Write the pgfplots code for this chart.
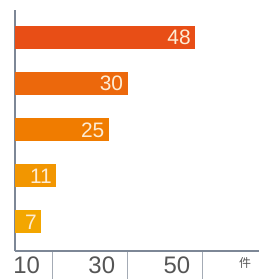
\documentclass[border=0pt]{standalone}
\usepackage{fontspec}
\setmainfont{Liberation Sans}
\newfontfamily\cjk{Noto Sans CJK JP}
\usepackage{pgfplots}
\pgfplotsset{compat=1.18}
\definecolor{c1}{RGB}{232,78,22}
\definecolor{c2}{RGB}{236,104,12}
\definecolor{c3}{RGB}{240,124,0}
\definecolor{c4}{RGB}{242,150,0}
\definecolor{c5}{RGB}{243,166,0}
\definecolor{axisgray}{RGB}{125,135,150}
\definecolor{labgray}{RGB}{85,85,85}
\definecolor{labcol}{RGB}{253,236,212}
\begin{document}
\begin{tikzpicture}
\begin{axis}[
  scale only axis, width=244bp, height=241bp,
  xmin=0, xmax=65, ymin=-0.63, ymax=4.6,
  /pgf/number format/assume math mode=true,
  axis x line*=bottom, axis y line*=left,
  axis line style={draw=axisgray, line width=2bp, -},
  ytick=\empty,
  xtick={10,30,50}, xticklabels={10,30,50},
  tick align=outside, major tick length=28bp,
  xtick style={draw=axisgray!70, line width=0.8bp},
  xticklabel style={anchor=north east, xshift=-9bp, yshift=26bp, font=\fontsize{24}{24}\selectfont, text=labgray},
  clip=false,
  every node near coord/.append style={anchor=east, text=labcol, font=\fontsize{21}{21}\selectfont, xshift=-1bp},
]
\addplot[xbar, bar width=23bp, bar shift=0pt, fill=c1, draw=none, nodes near coords] coordinates {(48,4)};
\addplot[xbar, bar width=23bp, bar shift=0pt, fill=c2, draw=none, nodes near coords] coordinates {(30,3)};
\addplot[xbar, bar width=23bp, bar shift=0pt, fill=c3, draw=none, nodes near coords] coordinates {(25,2)};
\addplot[xbar, bar width=23bp, bar shift=0pt, fill=c4, draw=none, nodes near coords] coordinates {(11,1)};
\addplot[xbar, bar width=23bp, bar shift=0pt, fill=c5, draw=none, nodes near coords] coordinates {(7,0)};
\node[font=\cjk\fontsize{12}{12}\selectfont, text=labgray, anchor=north] at (axis cs:61.3,-0.63) [yshift=-3bp] {件};
\end{axis}
\pgfresetboundingbox
\useasboundingbox (-15bp,-28bp) rectangle (244bp,251bp);
\end{tikzpicture}
\end{document}
